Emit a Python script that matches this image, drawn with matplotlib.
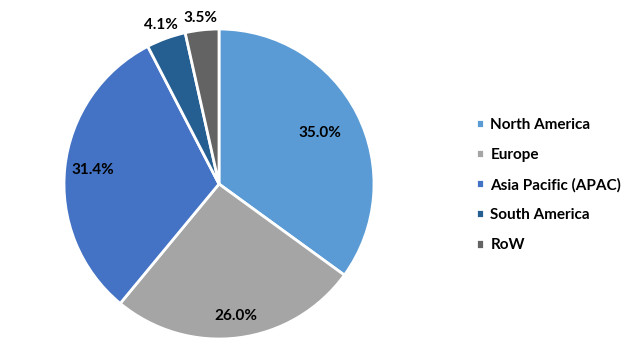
import matplotlib
matplotlib.use("Agg")
import matplotlib.pyplot as plt
import numpy as np

plt.rcParams['font.family'] = ['Lato', 'DejaVu Sans']

regions = ["North America", "Europe", "Asia Pacific (APAC)", "South America", "RoW"]
shares = [35.0, 26.0, 31.4, 4.1, 3.5]
colors = ["#5B9BD5", "#A5A5A5", "#4472C4", "#255E91", "#636363"]
label_dist = [0.73, 0.86, 0.82, 1.09, 1.08]

fig = plt.figure(figsize=(6.28, 3.59), dpi=100)
ax = fig.add_axes([64 / 628, 20 / 359, 310 / 628, 310 / 359])

wedges, _ = ax.pie(shares, colors=colors, startangle=90, counterclock=False,
                   radius=1.0, wedgeprops=dict(edgecolor="white", linewidth=2))
ax.set_xlim(-1, 1)
ax.set_ylim(-1, 1)
ax.set_aspect("equal")

for w, v, d in zip(wedges, shares, label_dist):
    ang = np.deg2rad((w.theta1 + w.theta2) / 2)
    ax.text(d * np.cos(ang), d * np.sin(ang), "%.1f%%" % v,
            ha="center", va="center", fontsize=11, fontweight="bold", color="black")

fig.legend(wedges, regions, loc="center left", bbox_to_anchor=(462 / 628, 174 / 359),
           frameon=False, prop={'weight': 'bold', 'size': 11},
           handlelength=0.55, handleheight=0.55, handletextpad=0.4, labelspacing=1.05)

fig.savefig("out.png", dpi=100)
